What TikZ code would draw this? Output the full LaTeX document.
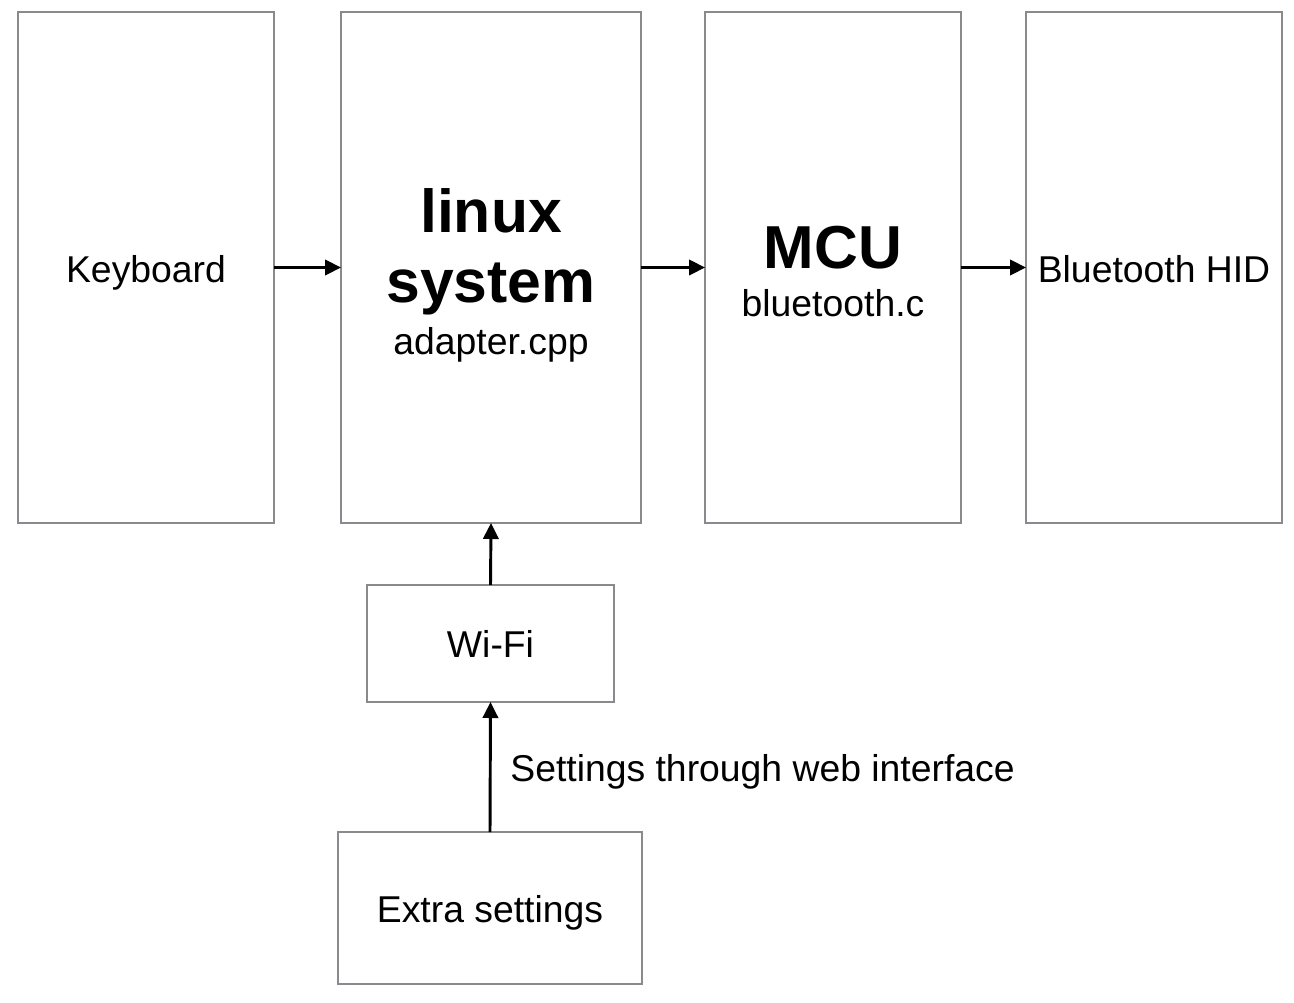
\documentclass[tikz,border=0pt]{standalone}
\usepackage{fontspec}
\setmainfont{Liberation Sans}
\usetikzlibrary{arrows.meta}
\definecolor{bordergray}{HTML}{8A8A8E}
\def\px{0.75pt}
\begin{document}
\begin{tikzpicture}[x=0.75pt,y=-0.75pt,
  box/.style={draw=bordergray,line width=2.2pt,fill=white,inner sep=0pt,outer sep=0pt},
  lbl/.style={font=\fontsize{28}{33}\selectfont,anchor=base,inner sep=0pt},
  big/.style={font=\fontsize{45.5}{52}\selectfont\bfseries,anchor=base,inner sep=0pt},
  conn/.style={line width=2.2pt,-{Triangle[length=12pt,width=11.5pt]}}]
\useasboundingbox[fill=white] (0,0) rectangle (1294,1002);
\node[box,minimum width=256*\px,minimum height=511*\px] (kb) at (146,267.5) {};
\node[box,minimum width=300*\px,minimum height=511*\px] (lin) at (491,267.5) {};
\node[box,minimum width=256*\px,minimum height=511*\px] (mcu) at (833,267.5) {};
\node[box,minimum width=256*\px,minimum height=511*\px] (bt) at (1154,267.5) {};
\node[box,minimum width=247*\px,minimum height=117*\px] (wifi) at (490.5,643.5) {};
\node[box,minimum width=304*\px,minimum height=152*\px] (extra) at (490,908) {};
% texts
\node[lbl] (tkb) at (146,282) {Keyboard};
\node[big] (tlin1) at (491,232) {linux};
\node[big] (tlin2) at (491,302) {system};
\node[lbl] (tlin3) at (491,354) {adapter.cpp};
\node[big] (tmcu1) at (833,268) {MCU};
\node[lbl] (tmcu2) at (833,316) {bluetooth.c};
\node[lbl] (tbt) at (1154,282) {Bluetooth HID};
\node[lbl] (twifi) at (490.5,657) {Wi-Fi};
\node[lbl] (textra) at (490,922) {Extra settings};
% connectors
\draw[conn] (kb.east) -- (lin.west);
\draw[conn] (lin.east) -- (mcu.west);
\draw[conn] (mcu.east) -- (bt.west);
\draw[conn] (wifi.north) -- (lin.south);
\draw[conn] (extra.north) -- node[lbl,anchor=base west,xshift=14pt,yshift=-11pt] (tweb) {Settings through web interface} (wifi.south);
\end{tikzpicture}
\end{document}
